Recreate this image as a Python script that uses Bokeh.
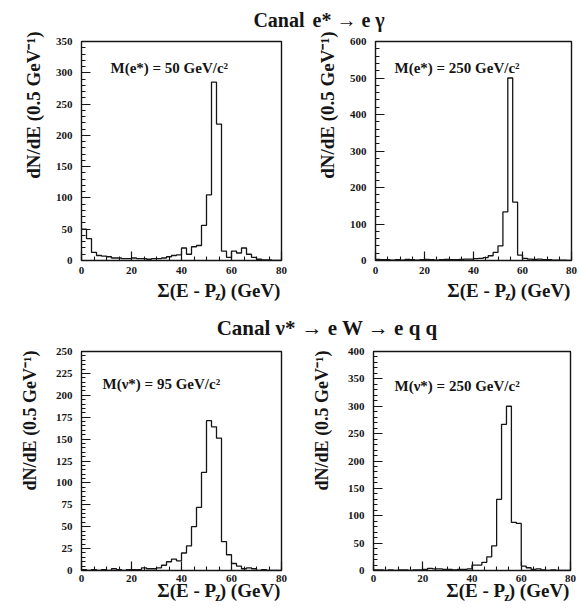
from bokeh.plotting import figure
from bokeh.layouts import column, row
from bokeh.models import Range1d, SingleIntervalTicker, Label, Title
from bokeh.embed import file_html
from bokeh.resources import INLINE

# ---------------- data ----------------
bin_edges = list(range(0, 82, 2))          # 2 GeV bins, 0..80 GeV
x_min, x_max = 0, 80

e_star_50 = [50, 35, 13, 8, 7, 6, 4, 4, 3, 3,
             4, 3, 3, 2, 3, 3, 4, 6, 8, 9,
             20, 10, 22, 24, 56, 105, 285, 218, 15, 5,
             15, 12, 20, 10, 5, 2, 1, 1, 0, 0]
e_star_250 = [3, 2, 2, 1, 2, 1, 3, 2, 1, 2,
              3, 2, 1, 2, 3, 2, 2, 3, 4, 4,
              5, 6, 8, 13, 22, 40, 133, 500, 160, 15,
              6, 4, 3, 4, 2, 2, 1, 1, 1, 0]
nu_star_95 = [1, 0, 1, 0, 1, 0, 2, 1, 0, 1,
              1, 1, 3, 2, 2, 3, 6, 10, 13, 11,
              20, 28, 50, 72, 112, 171, 164, 151, 33, 18,
              8, 5, 2, 3, 2, 0, 1, 0, 0, 0]
nu_star_250 = [1, 1, 0, 1, 0, 1, 1, 0, 1, 1,
               2, 4, 3, 3, 2, 2, 1, 2, 2, 3,
               10, 10, 15, 25, 45, 130, 267, 300, 88, 86,
               8, 5, 2, 3, 1, 0, 1, 0, 0, 0]

y_maxima = [350, 600, 250, 400]
y_major_steps = [50, 100, 25, 50]
mass_labels = ["M(e*) = 50 GeV/c²", "M(e*) = 250 GeV/c²",
               "M(ν*) = 95 GeV/c²", "M(ν*) = 250 GeV/c²"]
x_tick_step = 20
y_title = "dN/dE (0.5 GeV⁻¹)"
x_title_main = "Σ(E - P ) (GeV)"
x_title_sub = "z"
title_row1 = ["Canal", "e* → e γ"]
title_row2 = ["Canal ν*", "→ e W → e q q"]

FONT = "Liberation Serif"
INK = "#151515"
W_TAIL = 3.193 * 19      # width of ") (GeV)" at 19px


def make_panel(vals, ymax, ystep, mass, head, width, height,
               mbl, mbr, mbt, mbb, mass_dx, mass_dy,
               head_align, head_offset, head_standoff, head_size,
               yt_standoff, yt_offset, yt_size,
               xlab_standoff, xt_standoff, z_standoff):
    p = figure(width=width, height=height, output_backend="svg",
               toolbar_location=None, x_range=Range1d(x_min, x_max),
               y_range=Range1d(0, ymax), tools="")
    p.min_border_left = mbl
    p.min_border_right = mbr
    p.min_border_top = mbt
    p.min_border_bottom = mbb
    p.background_fill_color = "white"
    p.border_fill_color = "white"
    p.outline_line_color = INK
    p.outline_line_width = 1.4
    p.xgrid.visible = False
    p.ygrid.visible = False

    ys = list(vals) + [vals[-1]]
    p.step(bin_edges, ys, mode="after", line_color=INK, line_width=1.3)

    p.xaxis.ticker = SingleIntervalTicker(interval=x_tick_step, num_minor_ticks=4)
    p.yaxis.ticker = SingleIntervalTicker(interval=ystep, num_minor_ticks=5)
    for ax in (p.xaxis[0], p.yaxis[0]):
        ax.axis_line_color = None
        ax.major_tick_in = 9
        ax.major_tick_out = 0
        ax.minor_tick_in = 4
        ax.minor_tick_out = 0
        ax.major_tick_line_color = INK
        ax.minor_tick_line_color = INK
        ax.major_tick_line_width = 1.2
        ax.minor_tick_line_width = 1.1
        ax.major_label_text_font = FONT
        ax.major_label_text_font_style = "bold"
        ax.major_label_text_font_size = "11px"
        ax.major_label_text_color = INK
    p.xaxis.major_label_standoff = xlab_standoff
    p.yaxis.major_label_standoff = 9

    bold = dict(text_font=FONT, text_font_style="bold", text_color=INK)

    # heading (channel title half)
    p.title.text = head
    p.title.align = head_align
    p.title.offset = head_offset
    p.title.standoff = head_standoff
    p.title.vertical_align = "top"
    p.title.text_font = FONT
    p.title.text_font_style = "bold"
    p.title.text_font_size = head_size
    p.title.text_color = INK

    # mass annotation
    p.add_layout(Label(x=x_min, y=ymax, x_offset=mass_dx, y_offset=mass_dy,
                       text=mass, text_font_size="15px",
                       text_align="left", text_baseline="alphabetic", **bold))
    # y title (top aligned)
    p.add_layout(Title(text=y_title, align="right", offset=yt_offset,
                       standoff=yt_standoff, vertical_align="bottom",
                       text_font_size=yt_size, **bold), "left")
    # x title (right aligned) with subscript z
    p.add_layout(Title(text=x_title_main, align="right", offset=0,
                       standoff=xt_standoff, vertical_align="top",
                       text_font_size="19px", **bold), "below")
    p.add_layout(Title(text=x_title_sub, align="right", offset=W_TAIL,
                       standoff=z_standoff, vertical_align="top",
                       text_font_size="12.5px", **bold), "below")
    return p


# row 1
p1 = make_panel(e_star_50, y_maxima[0], y_major_steps[0], mass_labels[0], title_row1[0],
                width=305, height=306, mbl=81, mbr=24, mbt=41, mbb=46,
                mass_dx=29, mass_dy=-26, head_align="right", head_offset=-23,
                head_standoff=15.6, head_size="20px",
                yt_standoff=18, yt_offset=-10, yt_size="19px",
                xlab_standoff=6, xt_standoff=6, z_standoff=-32.4)
p2 = make_panel(e_star_250, y_maxima[1], y_major_steps[1], mass_labels[1], title_row1[1],
                width=274, height=306, mbl=67, mbr=8, mbt=41, mbb=46,
                mass_dx=19, mass_dy=-26, head_align="left", head_offset=-63,
                head_standoff=15.6, head_size="20px",
                yt_standoff=18, yt_offset=-10, yt_size="19px",
                xlab_standoff=6, xt_standoff=6, z_standoff=-32.4)
# row 2
p3 = make_panel(nu_star_95, y_maxima[2], y_major_steps[2], mass_labels[2], title_row2[0],
                width=296, height=306, mbl=81, mbr=15, mbt=45, mbb=42,
                mass_dx=21, mass_dy=-32, head_align="right", head_offset=-14,
                head_standoff=19, head_size="21px",
                yt_standoff=25, yt_offset=-1, yt_size="18px",
                xlab_standoff=4, xt_standoff=-9, z_standoff=-17.4)
p4 = make_panel(nu_star_250, y_maxima[3], y_major_steps[3], mass_labels[3], title_row2[1],
                width=283, height=306, mbl=76, mbr=9, mbt=45, mbb=42,
                mass_dx=21, mass_dy=-34, head_align="left", head_offset=-72,
                head_standoff=19, head_size="21px",
                yt_standoff=26, yt_offset=-1, yt_size="18px",
                xlab_standoff=4, xt_standoff=-9, z_standoff=-17.4)

layout = column(row(p1, p2, spacing=0), row(p3, p4, spacing=0), spacing=0)

open("out.html", "w").write(file_html(layout, INLINE))
